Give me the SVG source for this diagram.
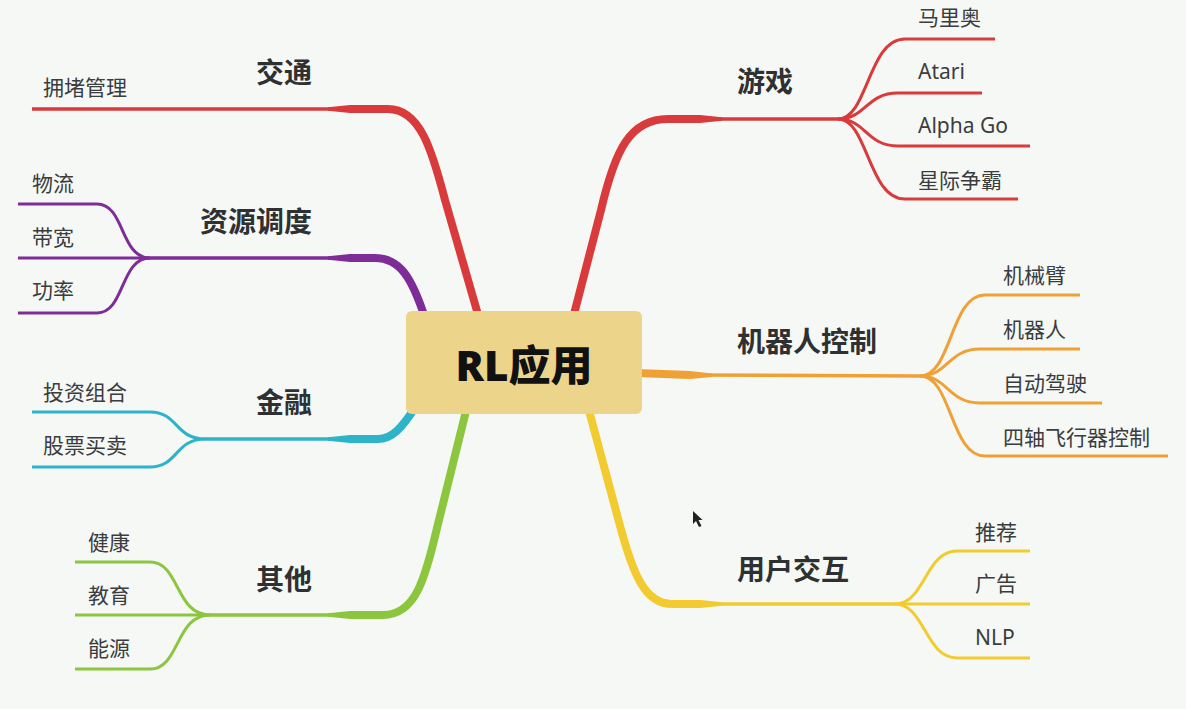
<svg xmlns="http://www.w3.org/2000/svg" width="1186" height="709" viewBox="0 0 1186 709">
<style>
.bg{fill:#f5f8f4}
.main{font-family:"Noto Sans","Noto Sans CJK SC",sans-serif;font-weight:bold;font-size:28px;fill:#2f3032}
.leaf{font-family:"Noto Sans","Noto Sans CJK SC",sans-serif;font-size:21px;fill:#3b3c3e}
.root{font-family:"Noto Sans","Noto Sans CJK SC",sans-serif;font-weight:900;font-size:42px;fill:#111}
.c path{fill:none;stroke-linejoin:round}
.c polygon{stroke:none}
.thick{stroke-width:8;stroke-linecap:butt}
.thin{stroke-width:3.5}
.ch{stroke-width:3}
.red{stroke:#d93a3c}
.org{stroke:#f0a135}
.yel{stroke:#f1cb2f}
.pur{stroke:#7e2d98}
.cya{stroke:#2db4c8}
.grn{stroke:#8cc63e}
.fred{fill:#d93a3c}
.forg{fill:#f0a135}
.fyel{fill:#f1cb2f}
.fpur{fill:#7e2d98}
.fcya{fill:#2db4c8}
.fgrn{fill:#8cc63e}
</style>
<rect class="bg" x="0" y="0" width="1186" height="709"/>
<g id="connectors" class="c">
<path class="red thick" d="M573 318 L601 210 C615 150 630 119 668 119 L700 119"/>
<polygon class="fred" points="700,115 700,123 722,120.75 722,117.25"/>
<path class="red thin" d="M700 119 L838 119"/>
<path class="red ch" d="M838 119 C868 119 868 39 905 39 L995 39"/>
<path class="red ch" d="M838 119 C866 119 866 93 898 93 L982 93"/>
<path class="red ch" d="M838 119 C866 119 866 146 898 146 L1030 146"/>
<path class="red ch" d="M838 119 C868 119 868 199 905 199 L1018 199"/>
<path class="org thick" d="M636 373 L690 375"/>
<polygon class="forg" points="690,371 690,379 712,377 712,373.5"/>
<path class="org thin" d="M690 375 L920 376"/>
<path class="org ch" d="M920 376 C952 376 950 295 985 295 L1080 295"/>
<path class="org ch" d="M920 376 C948 376 948 349 980 349 L1080 349"/>
<path class="org ch" d="M920 376 C948 376 948 403 980 403 L1102 403"/>
<path class="org ch" d="M920 376 C952 376 950 456 985 456 L1168 456"/>
<path class="yel thick" d="M588 407 L619 522 C633 575 645 604 672 604 L700 604"/>
<polygon class="fyel" points="700,600 700,608 722,605.75 722,602.25"/>
<path class="yel thin" d="M700 604 L895 604"/>
<path class="yel ch" d="M895 604 C925 604 925 551 957 551 L1030 551"/>
<path class="yel ch" d="M895 604 L1030 604"/>
<path class="yel ch" d="M895 604 C925 604 925 658 957 658 L1030 658"/>
<path class="red thick" d="M479 318 L445 200 C432 150 420 109 388 109 L350 109"/>
<polygon class="fred" points="350,105 350,113 328,110.75 328,107.25"/>
<path class="red thin" d="M350 109 L32 109"/>
<path class="pur thick" d="M425 318 C412 278 400 258 375 258 L350 258"/>
<polygon class="fpur" points="350,254 350,262 328,259.75 328,256.25"/>
<path class="pur thin" d="M350 258 L150 258"/>
<path class="pur ch" d="M150 258 C120 258 125 204 97 204 L18 204"/>
<path class="pur ch" d="M150 258 L18 258"/>
<path class="pur ch" d="M150 258 C120 258 125 313 97 313 L18 313"/>
<path class="cya thick" d="M416 406 C402 428 392 439 378 439 L350 439"/>
<polygon class="fcya" points="350,435 350,443 328,440.75 328,437.25"/>
<path class="cya thin" d="M350 439 L205 439"/>
<path class="cya ch" d="M205 439 C175 439 178 412 150 412 L32 412"/>
<path class="cya ch" d="M205 439 C175 439 178 467 150 467 L32 467"/>
<path class="grn thick" d="M467 407 L437 528 C425 580 415 615 383 615 L350 615"/>
<polygon class="fgrn" points="350,611 350,619 328,616.75 328,613.25"/>
<path class="grn thin" d="M350 615 L210 615"/>
<path class="grn ch" d="M210 615 C175 615 180 562 150 562 L75 562"/>
<path class="grn ch" d="M210 615 L75 615"/>
<path class="grn ch" d="M210 615 C175 615 180 669 150 669 L75 669"/>
</g>
<g id="root">
<rect x="406" y="311" width="236" height="103" rx="6" fill="#ecd48b"/>
<text class="root" x="524" y="381" text-anchor="middle">RL应用</text>
</g>
<g id="games"><text class="main" x="737" y="92">游戏</text></g>
<g id="mario"><text class="leaf" x="918" y="25">马里奥</text></g>
<g id="atari"><text class="leaf" x="918" y="79">Atari</text></g>
<g id="alphago"><text class="leaf" x="918" y="133">Alpha Go</text></g>
<g id="starcraft"><text class="leaf" x="918" y="188">星际争霸</text></g>
<g id="robot-control"><text class="main" x="737" y="352">机器人控制</text></g>
<g id="arm"><text class="leaf" x="1003" y="283">机械臂</text></g>
<g id="robot"><text class="leaf" x="1003" y="337">机器人</text></g>
<g id="driving"><text class="leaf" x="1003" y="391">自动驾驶</text></g>
<g id="quadcopter"><text class="leaf" x="1003" y="445">四轴飞行器控制</text></g>
<g id="interaction"><text class="main" x="737" y="580">用户交互</text></g>
<g id="recommend"><text class="leaf" x="975" y="540">推荐</text></g>
<g id="ads"><text class="leaf" x="975" y="591">广告</text></g>
<g id="nlp"><text class="leaf" x="975" y="645">NLP</text></g>
<g id="traffic"><text class="main" x="312" y="83" text-anchor="end">交通</text></g>
<g id="congestion"><text class="leaf" x="43" y="95">拥堵管理</text></g>
<g id="scheduling"><text class="main" x="312" y="232" text-anchor="end">资源调度</text></g>
<g id="logistics"><text class="leaf" x="32" y="191">物流</text></g>
<g id="bandwidth"><text class="leaf" x="32" y="245">带宽</text></g>
<g id="power"><text class="leaf" x="32" y="298">功率</text></g>
<g id="finance"><text class="main" x="312" y="413" text-anchor="end">金融</text></g>
<g id="portfolio"><text class="leaf" x="43" y="400">投资组合</text></g>
<g id="trading"><text class="leaf" x="43" y="453">股票买卖</text></g>
<g id="other"><text class="main" x="312" y="590" text-anchor="end">其他</text></g>
<g id="health"><text class="leaf" x="88" y="550">健康</text></g>
<g id="education"><text class="leaf" x="88" y="603">教育</text></g>
<g id="energy"><text class="leaf" x="88" y="656">能源</text></g>
<path d="M693 511 L693 524 L696 521 L699 527 L701.5 526 L698.5 520 L702.5 520 Z" fill="#222"/>
</svg>
